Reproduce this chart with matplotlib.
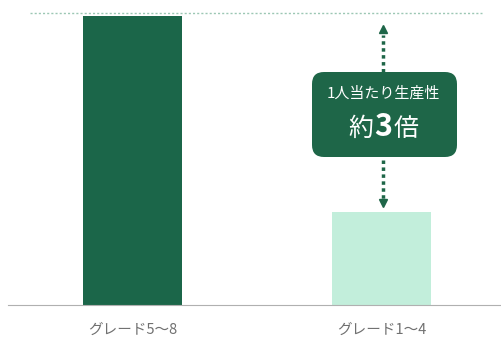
import matplotlib
matplotlib.use("Agg")
import matplotlib.pyplot as plt
from matplotlib.patches import FancyBboxPatch
from matplotlib.transforms import IdentityTransform

plt.rcParams['font.family'] = ['Noto Sans CJK JP', 'DejaVu Sans']

categories = ["グレード5〜8", "グレード1〜4"]
values = [100, 32]
colors = ["#1b6649", "#c2eedb"]
ref_level = 101
box_title = "1人当たり生産性"

W, H = 502, 339
fig = plt.figure(figsize=(W/100, H/100), dpi=100)
ax = fig.add_axes([8/W, 34/H, 494/W, 305/H])
x = list(range(len(categories)))
ax.bar(x, values, width=0.398, color=colors)
ax.set_xlim(-0.5, 1.484)
ax.set_ylim(0, 105.5)
ax.set_autoscale_on(False)

ax.plot([-0.412, 1.403], [ref_level, ref_level], linestyle=(0, (1.5, 1.5)), color="#9cc7b4", lw=1)

for s in ["top", "right", "left"]:
    ax.spines[s].set_visible(False)
ax.spines["bottom"].set_color("#b0b0b0")
ax.set_yticks([])
ax.set_xticks(x)
ax.set_xticklabels(categories, color="#707070", fontsize=10.5)
ax.tick_params(axis="x", length=0, pad=12.5)

green = "#1e6648"
ax_x = 1.006
# upper arrow
ax.plot([ax_x, ax_x], [80.6, 93.5], linestyle=(0, (1, 1)), color=green, lw=2.5)
ax.plot([ax_x], [95.3], marker="^", color=green, markersize=6)
# lower arrow
ax.plot([ax_x, ax_x], [50.2, 36.8], linestyle=(0, (1, 1)), color=green, lw=2.5)
ax.plot([ax_x], [35.3], marker="v", color=green, markersize=6)

# box in pixel coordinates (origin bottom-left)
box = FancyBboxPatch((312, H - 157), 145, 85,
                     boxstyle="round,pad=0,rounding_size=12",
                     facecolor=green, edgecolor="none",
                     transform=IdentityTransform(), zorder=3, clip_on=False)
ax.add_patch(box)
ax.text(ax_x, 73.3, box_title, ha="center", va="center", color="white", fontsize=10.8, zorder=4)
ax.text(0.968, 61.0, "約", ha="right", va="center", color="white", fontsize=18, zorder=4)
ax.text(1.007, 61.5, "3", ha="center", va="center", color="white", fontsize=22, fontweight="bold", zorder=4)
ax.text(1.047, 61.0, "倍", ha="left", va="center", color="white", fontsize=18, zorder=4)

fig.savefig("out.png", dpi=100)
